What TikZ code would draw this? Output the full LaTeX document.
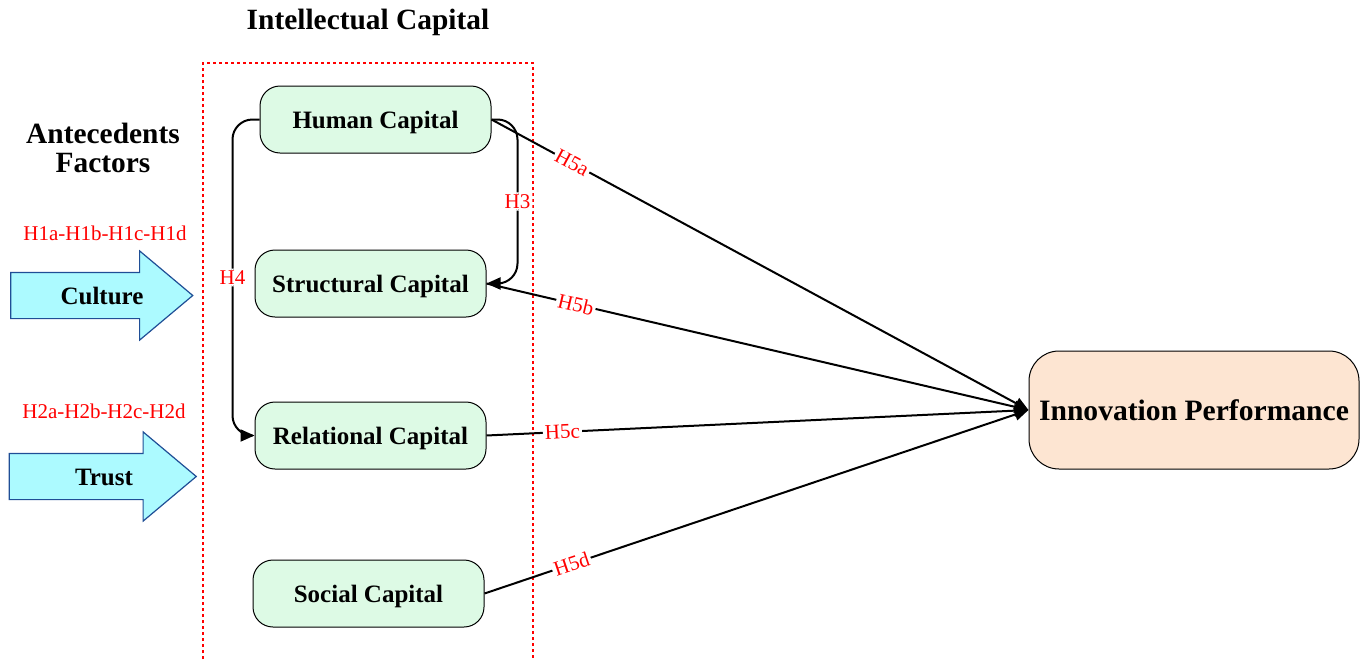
\documentclass[tikz,border=0pt]{standalone}
\usepackage{fontspec}
\setmainfont{Liberation Serif}
\definecolor{capgreen}{RGB}{221,250,229}
\definecolor{perfpeach}{RGB}{253,229,210}
\definecolor{factcyan}{RGB}{172,250,255}
\definecolor{factblue}{RGB}{31,78,150}
\usetikzlibrary{shapes, arrows.meta, positioning, calc}

\tikzset{
  capbox/.style={draw=black, fill=capgreen, rounded corners=10pt, line width=0.5pt,
    minimum width=115.5pt, minimum height=33.5pt, text height=8.5pt, text depth=0pt,
    font=\fontsize{12.5}{15}\selectfont\bfseries},
  perfbox/.style={draw=black, fill=perfpeach, rounded corners=15pt, line width=0.5pt,
    minimum width=165pt, minimum height=59pt, text height=10pt, text depth=0pt,
    font=\fontsize{14.8}{18}\selectfont\bfseries},
  factor/.style={single arrow, draw=factblue, fill=factcyan, line width=0.6pt,
    single arrow head extend=10.75pt, single arrow tip angle=80, inner xsep=0pt, inner ysep=0pt,
    text height=15.5pt, text depth=7pt, font=\fontsize{12.5}{15}\selectfont\bfseries},
  title/.style={font=\fontsize{14.7}{14.5}\selectfont\bfseries, align=center},
  hyp/.style={text=red, font=\fontsize{10.5}{12}\selectfont, fill=white, inner sep=1pt},
  link/.style={line width=1pt, -{Triangle[length=7pt, width=6pt]}},
}

\begin{document}
\begin{tikzpicture}[x=0.5pt, y=-0.5pt]
  \useasboundingbox (0,0) rectangle (1366,659);

  % titles
  \node[title] (ictitle) at (368,22) {Intellectual Capital};
  \node[title] (antitle) at (103,148) {Antecedents\\Factors};

  % intellectual capital frame
  \draw[red, line width=0.75pt, dash pattern=on 1.5pt off 1.5pt] (203,665) -- (203,63) -- (533,63) -- (533,665);

  % antecedents
  \node[hyp, fill=none] (h1) at (105,233) {H1a-H1b-H1c-H1d};
  \node[factor, minimum height=91pt, minimum width=44pt] (culture) at (88,295.5) {\hspace*{14pt}Culture};
  \node[hyp, fill=none] (h2) at (104,411) {H2a-H2b-H2c-H2d};
  \node[factor, minimum height=93.5pt, minimum width=44pt] (trust) at (89,476.5) {\hspace*{15pt}Trust};

  % capitals
  \node[capbox] (hc) at (375.5,119.5) {Human Capital};
  \node[capbox] (sc) at (370.5,283.5) {Structural Capital};
  \node[capbox] (rc) at (370.5,435.5) {Relational Capital};
  \node[capbox] (soc) at (368.5,593.5) {Social Capital};

  \node[perfbox] (ip) at (1194,410) {Innovation Performance};

  % hypotheses
  \draw[link, rounded corners=10pt] (hc.east) -- ++(26,0) |- node[hyp, pos=0.25] {H3} (sc.east);
  \draw[link, rounded corners=10pt] (hc.west) -- ++(-27,0) |- node[hyp, pos=0.25] {H4} (rc.west);
  \draw[link] (hc.east) -- node[hyp, sloped, pos=0.15] {H5a} (ip.west);
  \draw[link] (sc.east) -- node[hyp, sloped, pos=0.165] {H5b} (ip.west);
  \draw[link] (rc.east) -- node[hyp, sloped, pos=0.14] {H5c} (ip.west);
  \draw[link] (soc.east) -- node[hyp, sloped, pos=0.16] {H5d} (ip.west);
\end{tikzpicture}
\end{document}
